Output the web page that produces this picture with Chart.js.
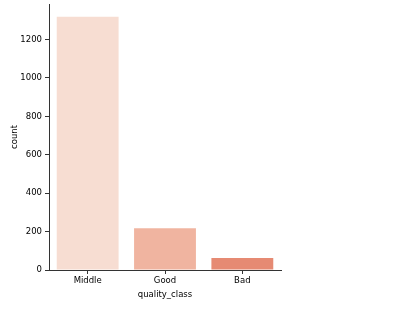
<!DOCTYPE html>
<html lang="en">
<head>
    <meta charset="UTF-8">
    <title>quality_class count</title>
    <script src="https://cdn.jsdelivr.net/npm/chart.js"></script>
    <style>
        html, body { margin: 0; padding: 0; background: #fff; }
        #wrap { width: 418px; height: 319px; }
    </style>
</head>
<body>
    <div id="wrap"><canvas id="countChart" width="418" height="319"></canvas></div>

    <script>
        const categories = ["Middle", "Good", "Bad"];
        const counts = [1319, 217, 63];
        const barColors = ["#f7ddd2", "#f0b4a0", "#e68a73"];
        const yTicks = [0, 200, 400, 600, 800, 1000, 1200];

        const font = { family: "DejaVu Sans", size: 8.5 };

        new Chart(document.getElementById("countChart").getContext("2d"), {
            type: "bar",
            data: {
                labels: categories,
                datasets: [{
                    label: "count",
                    data: counts,
                    backgroundColor: barColors,
                    borderWidth: 0,
                    categoryPercentage: 0.8,
                    barPercentage: 1.0
                }]
            },
            options: {
                responsive: false,
                animation: false,
                layout: { padding: { top: 4, right: 137, bottom: 19, left: 0 } },
                plugins: { legend: { display: false }, tooltip: { enabled: false } },
                scales: {
                    x: {
                        grid: { display: true, offset: false, drawOnChartArea: false, tickLength: 4, tickColor: "#333" },
                        border: { color: "#333", width: 1 },
                        ticks: { color: "#000", font: font, padding: 2 },
                        title: { display: true, text: "quality_class", color: "#000", font: font, padding: 0 },
                        afterFit: function (scale) { scale.height = 30; }
                    },
                    y: {
                        min: 0,
                        max: 1385,
                        grid: { display: true, drawOnChartArea: false, tickLength: 4, tickColor: "#333" },
                        border: { color: "#333", width: 1 },
                        ticks: { color: "#000", font: font, padding: 3, callback: v => String(v) },
                        title: { display: true, text: "count", color: "#000", font: font, padding: { top: 10, bottom: 0 } },
                        afterBuildTicks: function (scale) {
                            scale.ticks = yTicks.map(v => ({ value: v }));
                        },
                        afterFit: function (scale) {
                            scale.width = 49;
                            scale.paddingTop = 0;
                            scale.paddingBottom = 0;
                        }
                    }
                }
            }
        });
    </script>
</body>
</html>
